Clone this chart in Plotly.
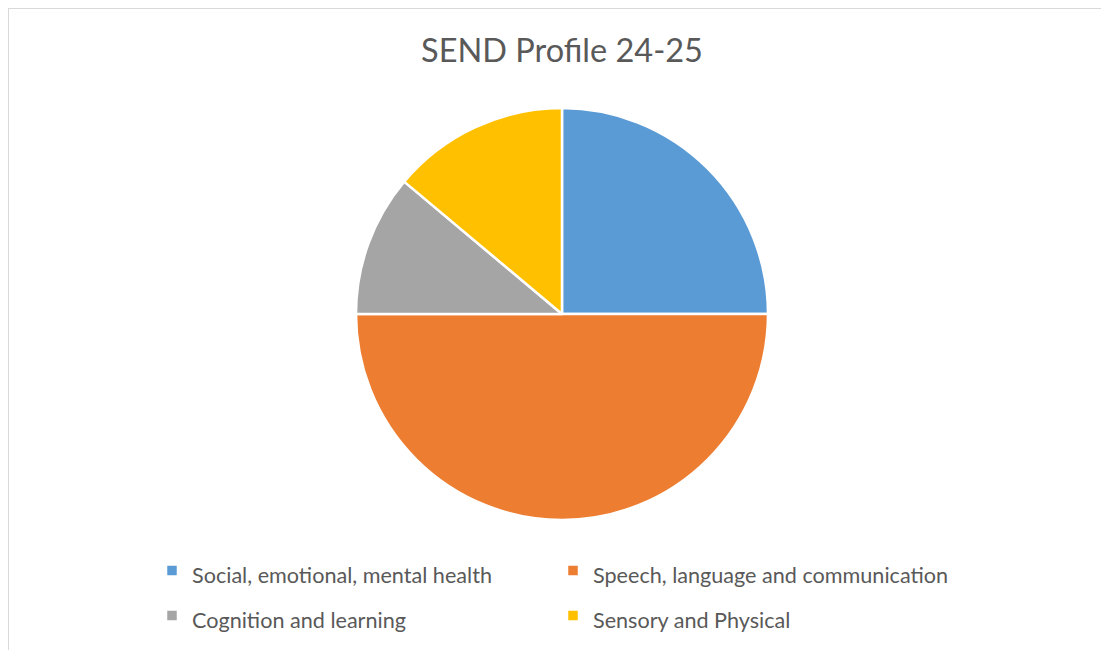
import plotly.graph_objects as go

categories = ["Social, emotional, mental health", "Speech, language and communication",
              "Cognition and learning", "Sensory and Physical"]
values = [9, 18, 4, 5]
colors = ["#5B9BD5", "#ED7D31", "#A5A5A5", "#FFC000"]

W, H = 1109, 650
OFF = 8  # page body margin
cx, cy, r = 562 - OFF, 314 - OFF, 206

legend_labels = ['<span style="font-size:21.6px">%s</span>' % c for c in categories]

fig = go.Figure(go.Pie(
    labels=legend_labels, values=values, sort=False, direction="clockwise", rotation=0,
    marker=dict(colors=colors, line=dict(color="white", width=2.5)),
    textinfo="none", hovertext=categories, hoverinfo="text+value+percent",
    domain=dict(x=[(cx - r) / W, (cx + r) / W], y=[1 - (cy + r) / H, 1 - (cy - r) / H]),
))

fig.update_layout(
    width=W, height=H,
    margin=dict(l=0, r=0, t=0, b=0),
    paper_bgcolor="white",
    title=dict(text="SEND Profile 24-25", x=(562 - OFF) / W, xanchor="center",
               y=1 - (51 - OFF) / H, yanchor="middle",
               font=dict(family="Lato", size=32.5, color="#595959")),
    legend=dict(orientation="h", x=(152 - OFF) / W, xanchor="left", y=1 - (543 - OFF) / H,
                yanchor="top",
                entrywidth=356, entrywidthmode="pixels", traceorder="normal",
                font=dict(family="Lato", size=32.3, color="#595959"),
                itemclick=False),
    shapes=[
        dict(type="line", xref="paper", yref="paper", x0=0, x1=1, y0=1 - 0.5 / H, y1=1 - 0.5 / H,
             line=dict(color="#D9D9D9", width=1)),
        dict(type="line", xref="paper", yref="paper", x0=0.5 / W, x1=0.5 / W, y0=0, y1=1,
             line=dict(color="#D9D9D9", width=1)),
    ],
)

fig.write_html("out.html")
